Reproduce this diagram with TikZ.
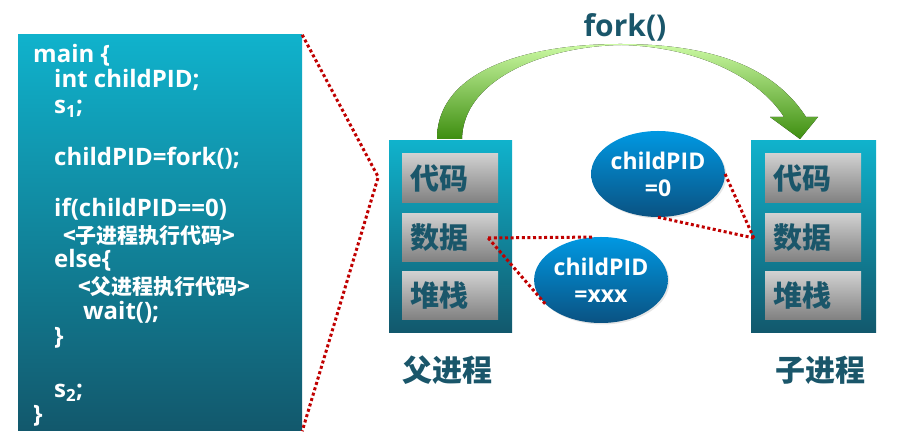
\documentclass[tikz,border=0pt]{standalone}
\usepackage{fontspec}
\setmainfont{Open Sans}
\newfontfamily\cjk{Noto Sans CJK SC}
\usepackage{tikz}
\usetikzlibrary{positioning,calc,shapes.geometric,shadows}

\definecolor{tealtop}{RGB}{16,178,204}
\definecolor{tealbot}{RGB}{18,88,108}
\definecolor{graytop}{RGB}{208,208,208}
\definecolor{graybot}{RGB}{128,128,128}
\definecolor{inktext}{RGB}{26,86,106}
\definecolor{bluetop}{RGB}{0,152,226}
\definecolor{bluebot}{RGB}{10,82,130}
\definecolor{dotred}{RGB}{192,0,0}
\definecolor{forkdark}{RGB}{62,142,16}
\definecolor{forklight}{RGB}{204,250,164}

\begin{document}
\begin{tikzpicture}[x=1pt,y=1pt,
    code/.style={anchor=base west, inner sep=0pt, text=white,
                 font=\fontsize{24}{24}\selectfont\bfseries},
    codecn/.style={anchor=base west, inner sep=0pt, text=white,
                   font=\cjk\fontsize{21}{21}\selectfont\bfseries},
    proc/.style={top color=tealtop, bottom color=tealbot, inner sep=0pt},
    cell/.style={top color=graytop, bottom color=graybot, inner sep=0pt,
                 text width=80pt, align=left, inner xsep=8pt,
                 text=inktext, font=\cjk\fontsize{29}{29}\selectfont\bfseries},
    bubble/.style={ellipse, minimum width=120pt, minimum height=86pt, inner sep=0pt,
                   top color=bluetop, bottom color=bluebot, text=white, align=center,
                   font=\fontsize{23}{27}\selectfont\bfseries,
                   drop shadow={opacity=0.2, shadow xshift=1.5pt, shadow yshift=-1.5pt}},
    title/.style={text=inktext, font=\cjk\fontsize{30}{30}\selectfont\bfseries},
    reddot/.style={dotred, line width=3pt, dash pattern=on 3pt off 2.6pt}]
    \useasboundingbox (0,0) rectangle (910,441);

    % Code listing
    \node[proc, minimum width=284pt, minimum height=396pt] (codebox) at (160,208) {};
    \node[code] (l1) at (33,378) {main \{};
    \node[code] (l2) at (54,353) {int childPID;};
    \node[code] (l3) at (54,327) {s\textsubscript{1};};
    \node[code] (l4) at (54,275) {childPID=fork();};
    \node[code] (l5) at (54,224) {if(childPID==0)};
    \node[codecn] (l6) at (63,197) {<子进程执行代码>};
    \node[code] (l7) at (54,173) {else\{};
    \node[codecn] (l8) at (78,146) {<父进程执行代码>};
    \node[code] (l9) at (83,121) {wait();};
    \node[code] (l10) at (54,96) {\}};
    \node[code] (l11) at (54,43) {s\textsubscript{2};};
    \node[code] (l12) at (33,18) {\}};

    % Zoom bracket
    \coordinate (zoomtip) at ($(codebox.east)+(76,56)$);
    \draw[reddot] (codebox.north east) -- (zoomtip) -- (codebox.south east);

    % fork arrow
    \fill[top color=forklight, bottom color=forkdark]
        (437,302) .. controls (437,372) and (530,397) .. (620,397)
        .. controls (700,397) and (770,380) .. (806,324)
        -- (818,324) -- (800,302) -- (770,324) -- (784,324)
        .. controls (760,362) and (700,394) .. (622,396)
        .. controls (545,395) and (463,362) .. (462,302) -- cycle;
    \node[text=inktext, font=\fontsize{30}{30}\selectfont\bfseries] (forklbl) at (625,414) {fork()};

    % Parent process
    \node[proc, minimum width=123pt, minimum height=192pt] (parent) at (450.5,204) {};
    \node[cell, minimum height=49pt] (pcode) at (450,262.5) {代码};
    \node[cell, minimum height=48pt] (pdata) at (450,203) {数据};
    \node[cell, minimum height=48pt] (pstack) at (450,145) {堆栈};
    \node[title] (plbl) at (447,71) {父进程};

    % Child process
    \node[proc, minimum width=125pt, minimum height=192pt] (child) at (813.5,204) {};
    \node[cell, minimum height=49pt] (ccode) at (813,262.5) {代码};
    \node[cell, minimum height=48pt] (cdata) at (813,203) {数据};
    \node[cell, minimum height=48pt] (cstack) at (813,145) {堆栈};
    \node[title] (clbl) at (820,71) {子进程};

    % Return values
    \node[bubble] (pidchild) at (658,267) {childPID\\=0};
    \node[bubble] (pidparent) at (601,161) {childPID\\=xxx};

    \coordinate (pdatapt) at ($(pdata.east)+(-10,0)$);
    \coordinate (cdatapt) at ($(cdata.west)+(-11,0)$);
    \draw[reddot] (pdatapt) -- (pidparent.100);
    \draw[reddot] (pdatapt) -- (pidparent.204);
    \draw[reddot] (pidchild.east) -- (cdatapt);
    \draw[reddot] (pidchild.south) -- (cdatapt);
\end{tikzpicture}
\end{document}
